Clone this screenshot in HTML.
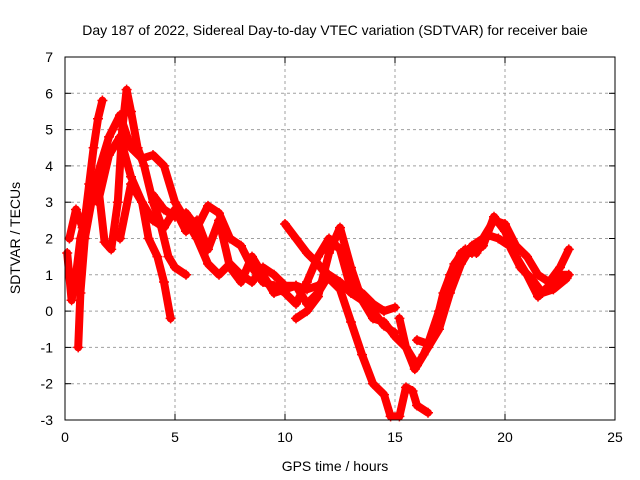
<!DOCTYPE html>
<html><head><meta charset="utf-8"><style>
body{margin:0;background:#fff}
svg{display:block;font-family:"Liberation Sans",sans-serif}
</style></head><body>
<svg id="chart" width="640" height="480">
<text x="335" y="35" text-anchor="middle" font-size="14">Day 187 of 2022, Sidereal Day-to-day VTEC variation (SDTVAR) for receiver baie</text>
<text x="335" y="471" text-anchor="middle" font-size="14">GPS time / hours</text>
<text transform="translate(20,238) rotate(-90)" text-anchor="middle" font-size="14">SDTVAR / TECUs</text>
<g id="grid"></g><g id="series"></g>
<rect x="65" y="57" width="550" height="363" fill="none" stroke="#000" stroke-width="1"/>
</svg>
<script>
const xTicks=[0,5,10,15,20,25];
const yTicks=[-3,-2,-1,0,1,2,3,4,5,6,7];
const trackA_t=[0.1,0.3,0.5,0.7,0.9,1.1,1.3,1.5,1.7];
const trackA_v=[1.6,0.3,1.0,2.0,2.5,3.5,4.5,5.3,5.8];
const trackB_t=[0.6,0.7,0.9,1.2,1.5,1.8,2.1,2.4,2.6,2.8,3.0,3.3,3.6,4.0,4.3,4.7,5.0,5.5];
const trackB_v=[-1,0.5,2.0,3.0,3.5,1.9,1.7,3.0,5.0,6.1,5.5,4.5,4.0,3.0,2.5,1.5,1.2,1.0];
const trackC_t=[0.2,0.5,0.8,1.1,1.5,2.0,2.5,3.0,3.5,4.0,4.5,5.0,5.5,6.0,6.5,7.0,7.5,8.0,8.5,9.0,9.5,10,10.5,11,11.5,12];
const trackC_v=[2.0,2.8,2.3,3.0,3.8,4.8,5.4,4.5,4.2,4.3,4.0,3.0,2.5,2.0,1.3,1.0,1.3,1.0,0.8,1.2,1.0,0.7,0.7,0.6,0.7,0.9];
const trackD_t=[1.5,2.0,2.5,3.0,3.5,3.8,4.2,4.5,4.8];
const trackD_v=[3.0,4.3,4.8,3.7,3.0,2.0,1.5,0.8,-0.2];
const trackE_t=[2.5,3.0,3.5,4.0,4.5,5,5.5,6,6.5,7,7.5,8,8.5,9,9.5,10,10.5,11,11.5,12,12.5,13,13.5,14,14.5,15];
const trackE_v=[2.0,3.5,3.0,2.5,2.3,2.8,2.2,2.5,1.7,2.5,1.2,0.8,1.5,1.0,0.5,0.6,0.7,0.2,0.5,1.0,0.8,0.5,0.3,0.0,-0.4,-0.6];
const trackF_t=[4.0,4.5,5.0,5.5,6.0,6.5,7.0,7.5,8.0,8.5,9,9.5,10,10.5,11,11.5,12,12.5,13,13.5,14,14.5,15];
const trackF_v=[3.2,2.8,2.6,2.7,2.3,2.9,2.7,2.0,1.8,1.2,0.8,0.7,0.5,0.2,0.8,1.5,2.0,1.7,0.6,0.5,0.2,0.0,0.1];
const trackG_t=[10,10.5,11,11.5,12,12.5,13,13.5,14,14.5,14.8,15.2,15.5,15.8,16,16.5];
const trackG_v=[2.4,2.0,1.6,1.3,0.9,0.6,-0.3,-1.2,-2.0,-2.3,-2.9,-2.9,-2.1,-2.2,-2.6,-2.8];
const trackH_t=[10.5,11,11.5,12,12.5,13,13.5,14,14.5,15,15.5,16,16.5,17,17.5,18,18.5,19,19.5,20,20.5,21,21.5,22,22.5,22.9];
const trackH_v=[-0.2,0.0,0.4,1.6,2.3,1.2,0.3,-0.2,-0.3,-0.7,-1.0,-1.5,-1.0,-0.5,0.5,1.3,1.8,2.0,2.5,2.4,1.8,1.5,1.0,0.8,1.2,1.7];
const trackI_t=[15.2,15.5,15.9,16.3,16.8,17.2,17.7,18.2,18.7,19.2,19.7,20.2,20.7,21.2,21.7,22.2,22.8];
const trackI_v=[-0.2,-1.0,-1.6,-1.2,-0.5,0.5,1.3,1.7,1.6,2.1,2.0,1.8,1.2,0.9,0.5,0.6,0.9];
const trackJ_t=[16,16.5,17,17.5,18,18.5,19,19.5,20,20.5,21,21.5,22,22.5,22.9];
const trackJ_v=[-0.8,-0.9,0.0,1.0,1.6,1.6,1.8,2.6,2.2,1.5,1.0,0.4,0.7,1.0,1.0];
const tracks=[[trackA_t,trackA_v],[trackB_t,trackB_v],[trackC_t,trackC_v],[trackD_t,trackD_v],[trackE_t,trackE_v],[trackF_t,trackF_v],[trackG_t,trackG_v],[trackH_t,trackH_v],[trackI_t,trackI_v],[trackJ_t,trackJ_v]];
const NS="http://www.w3.org/2000/svg";
const X0=65,X1=615,Y0=420,Y1=57;
function sx(t){return X0+(t-0)/(25-0)*(X1-X0);}
function sy(v){return Y0-(v+3)/(7+3)*(Y0-Y1);}
const grid=document.getElementById('grid');
function mk(tag,attrs,parent){const e=document.createElementNS(NS,tag);for(const k in attrs)e.setAttribute(k,attrs[k]);parent.appendChild(e);return e;}
xTicks.forEach(t=>{
  const x=sx(t);
  if(t>0&&t<25){const g=mk('line',{x1:x,x2:x,y1:Y1,y2:Y0,stroke:'#a0a0a0','stroke-dasharray':'3,3'},grid);
  
  }
  mk('line',{x1:x,x2:x,y1:Y0,y2:Y0-6,stroke:'#000'},grid);
  mk('line',{x1:x,x2:x,y1:Y1,y2:Y1+6,stroke:'#000'},grid);
  const l=mk('text',{x:x,y:Y0+22,'text-anchor':'middle','font-size':14},grid);l.textContent=t;
  
  
});
yTicks.forEach(v=>{
  const y=sy(v);
  if(v>-3&&v<7){const g=mk('line',{x1:X0,x2:X1,y1:y,y2:y,stroke:'#a0a0a0','stroke-dasharray':'3,3'},grid);
  
  }
  mk('line',{x1:X0,x2:X0+6,y1:y,y2:y,stroke:'#000'},grid);
  mk('line',{x1:X1,x2:X1-6,y1:y,y2:y,stroke:'#000'},grid);
  const l=mk('text',{x:X0-12,y:y+5,'text-anchor':'end','font-size':14},grid);l.textContent=v;
  
  
});
const ser=document.getElementById('series');
tracks.forEach((tr,i)=>{
  const [ts,vs]=tr;
  const d=ts.map((t,j)=>(j?'L':'M')+sx(t).toFixed(1)+','+sy(vs[j]).toFixed(1)).join(' ');
  const p=mk('path',{d:d,fill:'none',stroke:'#ff0000','stroke-width':8,'stroke-linejoin':'round','stroke-linecap':'round'},ser);
  
  
  ts.forEach((t,j)=>{
    const x=sx(t),y=sy(vs[j]);
    const m=mk('path',{d:`M${x-5},${y}H${x+5}M${x},${y-5}V${y+5}`,stroke:'#ff0000','stroke-width':1.5},ser);
    
    
  });
});
</script>
</body></html>
